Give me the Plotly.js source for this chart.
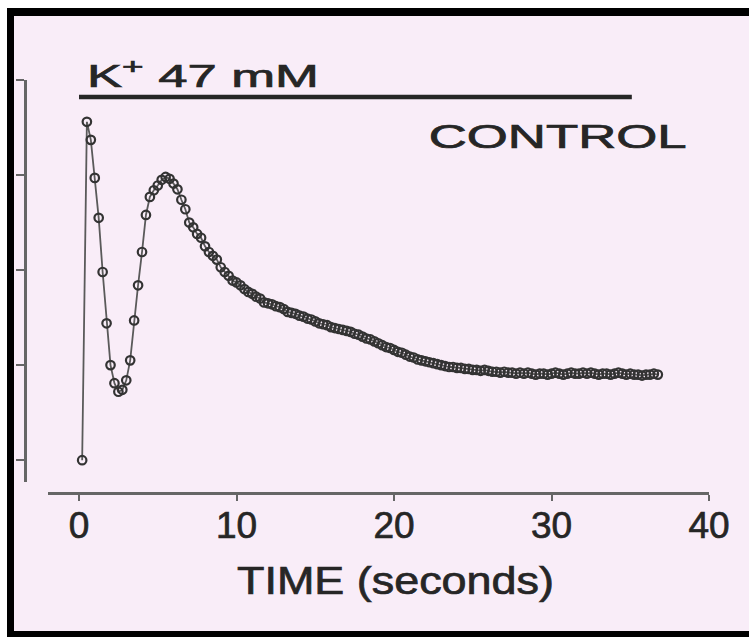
<!DOCTYPE html>
<html>
<head>
<meta charset="utf-8">
<script src="https://cdn.plot.ly/plotly-3.0.1.min.js"></script>
<style>
  html, body { margin: 0; padding: 0; background: #ffffff; width: 749px; height: 637px; overflow: hidden; }
  #frame {
    position: absolute; left: 7px; top: 8px; width: 742px; height: 629px;
    box-sizing: border-box; background: #f9edf8;
    border-left: 7px solid #000; border-top: 8px solid #000; border-bottom: 6px solid #000;
  }
  #chart { width: 735px; height: 615px; }
  #chart text { stroke: #262626; stroke-width: 0.7px; paint-order: stroke; }
</style>
</head>
<body>
<div id="frame"><div id="chart"></div></div>
<script>
// Time (s) of each sample
const timeEarly = [0.2, 0.5, 0.75, 1.0, 1.25, 1.5, 1.75, 2.0, 2.25, 2.5, 2.75, 3.0, 3.25, 3.5, 3.75,
  4.0, 4.25, 4.5, 4.75, 5.0, 5.25, 5.5, 5.75];
const valueEarly = [0.0, 3.56, 3.37, 2.97, 2.55, 1.98, 1.44, 1.0, 0.81, 0.72, 0.74, 0.84, 1.05, 1.47, 1.84,
  2.19, 2.58, 2.77, 2.84, 2.89, 2.95, 2.98, 2.96];
const timeLate = [6.0, 6.25, 6.5, 6.75, 7.0, 7.25, 7.5, 7.75, 8.0, 8.25, 8.5, 8.75, 9.0, 9.25, 9.5, 9.75,
  10.0, 10.25, 10.5, 10.75, 11.0, 11.25, 11.5, 11.75, 12.0, 12.25, 12.5, 12.75, 13.0, 13.25, 13.5, 13.75,
  14.0, 14.25, 14.5, 14.75, 15.0, 15.25, 15.5, 15.75, 16.0, 16.25, 16.5, 16.75, 17.0, 17.25, 17.5, 17.75,
  18.0, 18.25, 18.5, 18.75, 19.0, 19.25, 19.5, 19.75, 20.0, 20.25, 20.5, 20.75, 21.0, 21.25, 21.5, 21.75,
  22.0, 22.25, 22.5, 22.75, 23.0, 23.25, 23.5, 23.75, 24.0, 24.25, 24.5, 24.75, 25.0, 25.25, 25.5, 25.75,
  26.0, 26.25, 26.5, 26.75, 27.0, 27.25, 27.5, 27.75, 28.0, 28.25, 28.5, 28.75, 29.0, 29.25, 29.5, 29.75,
  30.0, 30.25, 30.5, 30.75, 31.0, 31.25, 31.5, 31.75, 32.0, 32.25, 32.5, 32.75, 33.0, 33.25, 33.5, 33.75,
  34.0, 34.25, 34.5, 34.75, 35.0, 35.25, 35.5, 35.75, 36.0, 36.25, 36.5, 36.75];
const valueLate = [2.91, 2.85, 2.74, 2.64, 2.50, 2.45, 2.38, 2.34, 2.25, 2.19, 2.15, 2.11, 2.03, 1.98, 1.94, 1.89,
  1.87, 1.84, 1.80, 1.77, 1.75, 1.72, 1.70, 1.66, 1.65, 1.64, 1.62, 1.61, 1.59, 1.56, 1.55, 1.54,
  1.52, 1.51, 1.49, 1.48, 1.46, 1.44, 1.43, 1.42, 1.40, 1.39, 1.38, 1.37, 1.36, 1.35, 1.33, 1.32,
  1.30, 1.28, 1.27, 1.25, 1.23, 1.21, 1.19, 1.18, 1.16, 1.14, 1.13, 1.11, 1.09, 1.08, 1.06, 1.05,
  1.04, 1.03, 1.02, 1.01, 1.00, 0.99, 0.98, 0.98, 0.97, 0.97, 0.96, 0.96, 0.95, 0.95, 0.94, 0.95,
  0.94, 0.93, 0.93, 0.92, 0.93, 0.92, 0.92, 0.91, 0.92, 0.91, 0.92, 0.91, 0.90, 0.91, 0.91, 0.90,
  0.91, 0.92, 0.91, 0.90, 0.91, 0.92, 0.91, 0.91, 0.92, 0.91, 0.92, 0.91, 0.90, 0.91, 0.91, 0.90,
  0.91, 0.92, 0.91, 0.90, 0.91, 0.90, 0.90, 0.89, 0.90, 0.90, 0.91, 0.90];
const stimulusSpan = [0, 35.1];   // K+ 47 mM application (s)
const stimulusLevel = 3.82;
const xTicks = [0, 10, 20, 30, 40];
const yTicks = [0, 1, 2, 3, 4];

const times = timeEarly.concat(timeLate);
const values = valueEarly.concat(valueLate);

const FONT = 'Liberation Sans, Arial, Helvetica, sans-serif';
const INK = '#262626';

const trace = {
  type: 'scatter', mode: 'lines+markers',
  x: times, y: values,
  line: { color: '#5a5a5a', width: 1.8 },
  marker: { symbol: 'circle-open', size: 8.5, color: '#333333', line: { width: 2.2, color: '#333333' } },
  hoverinfo: 'skip'
};

const layout = {
  width: 735, height: 615,
  margin: { l: 11, r: 40, t: 64, b: 138 },
  paper_bgcolor: '#f9edf8', plot_bgcolor: 'rgba(0,0,0,0)',
  showlegend: false,
  xaxis: {
    domain: [0.0336, 1], range: [-1.97, 40], anchor: 'free', position: 0,
    tickvals: xTicks, ticktext: xTicks.map(String),
    ticks: 'outside', ticklen: 6, tickwidth: 2, tickcolor: '#666666',
    ticklabelstandoff: -7,
    showline: true, linecolor: '#666666', linewidth: 2.5,
    showgrid: false, zeroline: false,
    tickfont: { family: FONT, size: 37, color: INK },
    title: { text: 'TIME (seconds)', font: { family: FONT, size: 38, color: INK }, standoff: 22 }
  },
  yaxis: {
    domain: [0.0266, 1], range: [-0.23, 4.0], anchor: 'free', position: 0,
    tickvals: yTicks, showticklabels: false,
    ticks: 'outside', ticklen: 8, tickwidth: 2, tickcolor: '#666666',
    showline: true, linecolor: '#666666', linewidth: 2.5,
    showgrid: false, zeroline: false
  },
  shapes: [{
    type: 'line', xref: 'x', yref: 'y',
    x0: stimulusSpan[0], x1: stimulusSpan[1], y0: stimulusLevel, y1: stimulusLevel,
    line: { color: INK, width: 4.5 }
  }],
  annotations: [
    { xref: 'x', yref: 'y', x: 0.35, y: stimulusLevel, xanchor: 'left', yanchor: 'bottom', yshift: 1,
      text: 'K<sup>+</sup> 47 mM', showarrow: false,
      font: { family: FONT, size: 31, color: INK } },
    { xref: 'x', yref: 'y', x: 30.4, y: 3.41, xanchor: 'center', yanchor: 'middle',
      text: 'CONTROL', showarrow: false,
      font: { family: FONT, size: 33, color: INK } }
  ]
};

// horizontal stretch of the printed lettering (the original type is very wide)
function widen(el, width, origin, shift) {
  if (!el) return;
  const w = el.getBBox().width;
  if (!w) return;
  el.style.transformBox = 'fill-box';
  el.style.transformOrigin = origin;
  el.style.transform = 'translateX(' + (shift || 0) + 'px) scaleX(' + (width / w).toFixed(3) + ')';
}

Plotly.newPlot('chart', [trace], layout, { staticPlot: true, displayModeBar: false }).then(function (gd) {
  const ann = gd.querySelectorAll('.annotation-text');
  widen(ann[0], 232, 'left center', 0);
  widen(ann[1], 258, 'center center', 0);
  widen(gd.querySelector('.g-xtitle text'), 317, 'center center', 17);
});
</script>
</body>
</html>
